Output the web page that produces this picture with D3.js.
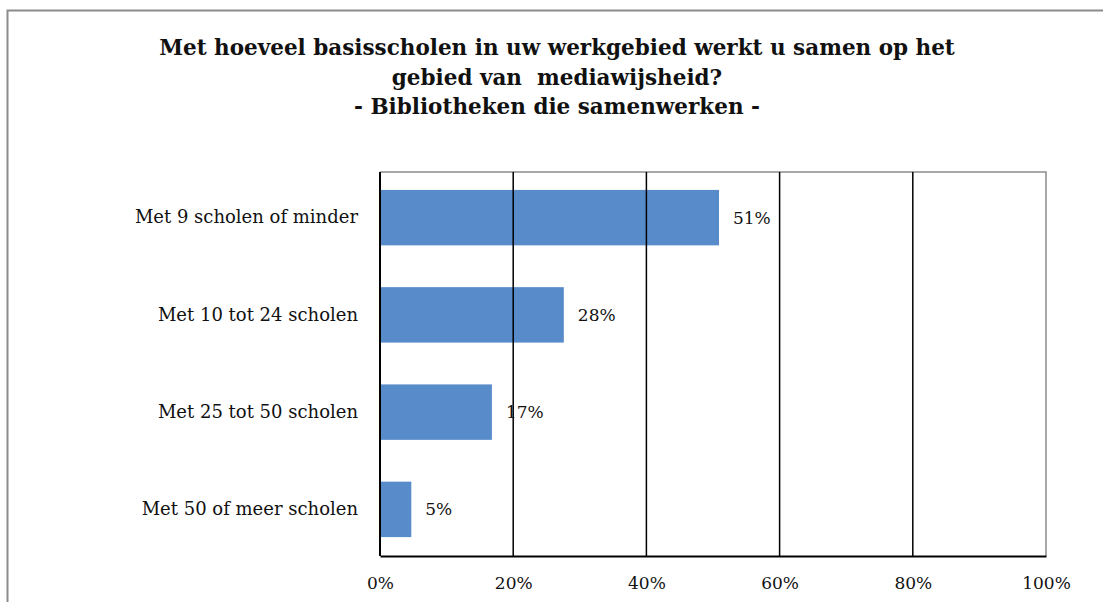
<!DOCTYPE html>
<html>
<head>
<meta charset="utf-8">
<script src="https://cdn.jsdelivr.net/npm/d3@7"></script>
<style>
  body { margin: 0; background: #fff; }
  svg text { font-family: "DejaVu Serif", "Liberation Serif", serif; fill: #111; }
</style>
</head>
<body>
<svg width="1103" height="602"></svg>
<script>
// chart data
const categories = ["Met 9 scholen of minder", "Met 10 tot 24 scholen", "Met 25 tot 50 scholen", "Met 50 of meer scholen"];
const shares = [0.509, 0.276, 0.168, 0.047];
const valueLabels = ["51%", "28%", "17%", "5%"];
const tickValues = [0, 0.2, 0.4, 0.6, 0.8, 1];
const titleLines = ["Met hoeveel basisscholen in uw werkgebied werkt u samen op het", "gebied van  mediawijsheid?", "- Bibliotheken die samenwerken -"];

const svg = d3.select("svg");
const plot = { left: 380, right: 1046, top: 172, bottom: 556 };

// outer frame (only top + left edge visible)
svg.append("path")
    .attr("d", "M7.5,602 V10.5 H1103")
    .attr("fill", "none")
    .attr("stroke", "#8c8c8c")
    .attr("stroke-width", 2);

// title
svg.append("g").selectAll("text")
    .data(titleLines)
    .enter().append("text")
    .attr("x", 557)
    .attr("y", (d, i) => 55 + i * 29.5)
    .attr("text-anchor", "middle")
    .style("font-size", "21.5px")
    .style("font-weight", "bold")
    .style("white-space", "pre")
    .text(d => d);

const x = d3.scaleLinear().domain([0, 1]).range([plot.left, plot.right]);
const y = d3.scaleBand().domain(categories).range([169, 558]).paddingInner(0.43).paddingOuter(0.215);

// top and right border of plot area
svg.append("path")
    .attr("d", `M${plot.left},${plot.top} H${plot.right} V${plot.bottom}`)
    .attr("fill", "none")
    .attr("stroke", "#8c8c8c")
    .attr("stroke-width", 1.5);

// bars
svg.append("g").selectAll("rect")
    .data(shares)
    .enter().append("rect")
    .attr("x", x(0))
    .attr("y", (d, i) => y(categories[i]))
    .attr("width", d => x(d) - x(0))
    .attr("height", y.bandwidth())
    .attr("fill", "#588bc9");

// gridlines (drawn over bars like in the original)
svg.append("g").selectAll("line")
    .data(tickValues.slice(1, -1))
    .enter().append("line")
    .attr("x1", d => x(d)).attr("x2", d => x(d))
    .attr("y1", plot.top).attr("y2", plot.bottom)
    .attr("stroke", "#000")
    .attr("stroke-width", 1.5);

// value axis along the bottom
const xAxis = svg.append("g")
    .attr("transform", `translate(0,${plot.bottom})`)
    .call(d3.axisBottom(x).tickValues(tickValues).tickSize(0).tickPadding(21).tickFormat(d3.format(".0%")));
xAxis.select(".domain").attr("stroke", "#000").attr("stroke-width", 2);
xAxis.selectAll("text").style("font-size", "17px").attr("fill", "#111");

// category axis along the left
const yAxis = svg.append("g")
    .attr("transform", `translate(${plot.left},0)`)
    .call(d3.axisLeft(y).tickSize(0).tickPadding(22));
yAxis.select(".domain").attr("d", `M0,${plot.top}V${plot.bottom}`).attr("stroke", "#000").attr("stroke-width", 2);
yAxis.selectAll("text").style("font-size", "18px").attr("fill", "#111");

// value labels
svg.append("g").selectAll("text")
    .data(shares)
    .enter().append("text")
    .attr("x", d => x(d) + 14)
    .attr("y", (d, i) => y(categories[i]) + y.bandwidth() / 2)
    .attr("dy", "0.35em")
    .style("font-size", "17px")
    .text((d, i) => valueLabels[i]);
</script>
</body>
</html>
